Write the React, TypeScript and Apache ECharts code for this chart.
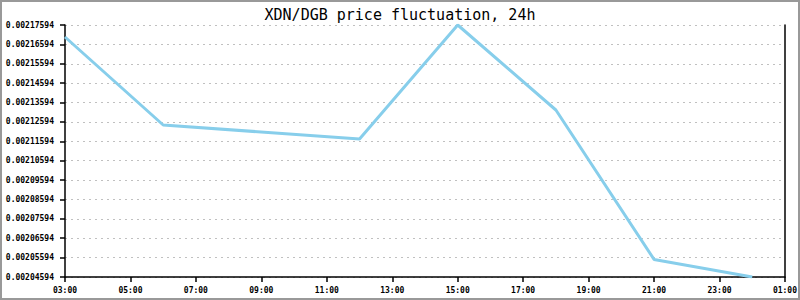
import React, { useEffect, useRef } from "react";
import * as echarts from "echarts";

const titleText = "XDN/DGB price fluctuation, 24h";
const startHour = 3;
const spanHours = 22;
const times = ["03:00", "06:00", "12:00", "15:00", "18:00", "21:00", "00:00"];
const prices = [0.00216975, 0.00212435, 0.00211713, 0.00217594, 0.00213209, 0.002055, 0.00204594];
const yMin = 0.00204594;
const yMax = 0.00217594;
const yStep = 0.00001;

const UNIT = 1e8;

export default function App() {
  const ref = useRef<HTMLDivElement>(null);
  useEffect(() => {
    document.body.style.margin = "0";
    if (!ref.current) return;
    const chart = echarts.init(ref.current, null, { renderer: "svg" });
    const baseUnits = Math.round(yMin * UNIT);
    const data = times.map((t, i) => {
      const h = parseInt(t.split(":")[0], 10);
      let off = h - startHour;
      if (off < 0) off += 24;
      return [off, Math.round(prices[i] * UNIT) - baseUnits];
    });
    const yRange = Math.round((yMax - yMin) * UNIT);
    const yInt = Math.round(yStep * UNIT);
    const font = "DejaVu Sans Mono";
    chart.setOption({
      animation: false,
      title: {
        text: titleText,
        left: "center",
        top: 2,
        textStyle: { fontFamily: font, fontSize: 15, fontWeight: "normal", color: "#000" },
      },
      grid: { left: 65, right: 15, top: 25, bottom: 23 },
      xAxis: {
        type: "value",
        min: 0,
        max: spanHours,
        interval: 2,
        axisLine: { lineStyle: { color: "#000", width: 1.5 } },
        axisTick: { show: true, length: 5, lineStyle: { color: "#000", width: 1.5 } },
        axisLabel: {
          margin: 9,
          fontFamily: font,
          fontSize: 8,
          fontWeight: "bold",
          color: "#000",
          formatter: (v: number) => {
            const h = (Math.round(v) + startHour) % 24;
            return (h < 10 ? "0" : "") + h + ":00";
          },
        },
        splitLine: { show: false },
      },
      yAxis: [
        {
          type: "value",
          min: 0,
          max: yRange,
          interval: yInt,
          axisLine: { show: true, lineStyle: { color: "#000", width: 1.5 } },
          axisTick: { show: true, length: 5, lineStyle: { color: "#000", width: 1.5 } },
          axisLabel: {
            margin: 11,
            fontFamily: font,
            fontSize: 8,
            fontWeight: "bold",
            color: "#000",
            formatter: (v: number) => ((baseUnits + v) / UNIT).toFixed(8),
          },
          splitLine: { show: true, lineStyle: { color: "#c0c0c0", type: [2, 4], width: 1 } },
        },
        {
          type: "value",
          position: "right",
          min: 0,
          max: yRange,
          interval: yInt,
          axisLine: { show: true, lineStyle: { color: "#000", width: 1.5 } },
          axisTick: { show: false },
          axisLabel: { show: false },
          splitLine: { show: false },
        },
      ],
      series: [
        {
          type: "line",
          data,
          showSymbol: false,
          symbol: "none",
          lineStyle: { color: "#87CEEB", width: 3 },
          z: 3,
        },
      ],
    });
    return () => chart.dispose();
  }, []);
  return (
    <div style={{ position: "relative", width: 800, height: 300 }}>
      <div ref={ref} style={{ width: 800, height: 300 }} />
      <div
        style={{
          position: "absolute",
          left: 0,
          top: 0,
          width: 800,
          height: 300,
          boxSizing: "border-box",
          border: "2px solid #999",
          pointerEvents: "none",
        }}
      />
    </div>
  );
}
